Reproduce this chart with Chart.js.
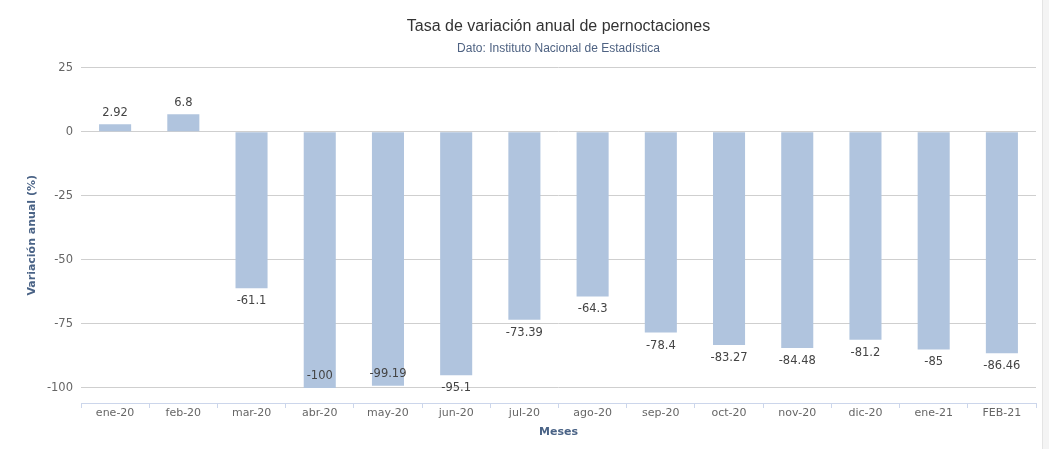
<!DOCTYPE html>
<html lang="es">
<head>
<meta charset="utf-8">
<title>Tasa de variación anual de pernoctaciones</title>
<script src="https://cdn.jsdelivr.net/npm/chart.js@4.4.1/dist/chart.umd.min.js"></script>
<style>
  html, body { margin: 0; padding: 0; background: #f4f4f4; }
  #wrap { width: 1042px; height: 449px; background: #fff; border-right: 1px solid #e4e4e4; box-sizing: content-box; }
  canvas { display: block; }
</style>
</head>
<body>
<div id="wrap"><canvas id="grafico" width="1042" height="449"></canvas></div>
<script>
// Datos (INE)
const meses = ['ene-20', 'feb-20', 'mar-20', 'abr-20', 'may-20', 'jun-20', 'jul-20',
               'ago-20', 'sep-20', 'oct-20', 'nov-20', 'dic-20', 'ene-21', 'FEB-21'];
const variacion = [2.92, 6.8, -61.1, -100, -99.19, -95.1, -73.39,
                   -64.3, -78.4, -83.27, -84.48, -81.2, -85, -86.46];
const ticksY = [25, 0, -25, -50, -75, -100];

const colorBarra = '#b0c4de';
const colorEje = '#ccd6eb';
const colorTituloEje = '#4a6386';

// Etiquetas de valor sobre / bajo cada barra
const etiquetasBarras = {
  id: 'etiquetasBarras',
  afterDatasetsDraw(chart) {
    const ctx = chart.ctx;
    const meta = chart.getDatasetMeta(0);
    const area = chart.chartArea;
    ctx.save();
    ctx.font = '11.5px "DejaVu Sans", Verdana, sans-serif';
    ctx.fillStyle = '#444';
    ctx.textAlign = 'center';
    ctx.textBaseline = 'middle';
    meta.data.forEach((barra, i) => {
      const v = variacion[i];
      let y;
      if (v >= 0) {
        y = barra.y - 11.5;
      } else {
        y = barra.y + 13;
        // si no cabe debajo, se mete dentro de la barra
        if (y + 10.5 > area.bottom) y = barra.y - 12;
      }
      ctx.fillText(String(v), barra.x, y);
    });
    ctx.restore();
  }
};

const ctx = document.getElementById('grafico').getContext('2d');
new Chart(ctx, {
  type: 'bar',
  data: {
    labels: meses,
    datasets: [{
      label: 'Variación anual (%)',
      data: variacion,
      backgroundColor: colorBarra,
      borderWidth: 0,
      barPercentage: 0.47,
      categoryPercentage: 1
    }]
  },
  options: {
    responsive: false,
    animation: false,
    layout: { padding: { left: 0, right: 6, top: 0, bottom: 0 } },
    scales: {
      x: {
        offset: true,
        afterFit(scale) { scale.height = 46; },
        grid: {
          offset: true,
          drawOnChartArea: false,
          drawTicks: true,
          tickLength: 5,
          tickColor: colorEje
        },
        border: { display: true, color: colorEje, width: 1 },
        ticks: {
          color: '#666',
          padding: -1,
          maxRotation: 0,
          font: { family: '"DejaVu Sans", Verdana, sans-serif', size: 11 }
        },
        title: {
          display: true,
          text: 'Meses',
          color: colorTituloEje,
          padding: { top: 0, bottom: 10 },
          font: { family: '"DejaVu Sans", Verdana, sans-serif', size: 11, weight: 'bold' }
        }
      },
      y: {
        min: -105.9,
        max: 25,
        afterFit(scale) { scale.width = 81; },
        afterBuildTicks(scale) {
          scale.ticks = ticksY.map(v => ({ value: v }));
        },
        grid: { color: '#cfcfcf', drawTicks: false },
        border: { display: false },
        ticks: {
          color: '#666',
          padding: 8,
          font: { family: '"DejaVu Sans", Verdana, sans-serif', size: 11.5 }
        },
        title: {
          display: true,
          text: 'Variación anual (%)',
          color: colorTituloEje,
          padding: { top: 26, bottom: 0 },
          font: { family: '"DejaVu Sans", Verdana, sans-serif', size: 11, weight: 'bold' }
        }
      }
    },
    plugins: {
      legend: { display: false },
      tooltip: { enabled: false },
      title: {
        display: true,
        text: 'Tasa de variación anual de pernoctaciones',
        color: '#333',
        fullSize: false,
        padding: { top: 17, bottom: 5 },
        font: { family: '"Liberation Sans", Arial, sans-serif', size: 16, weight: 'normal' }
      },
      subtitle: {
        display: true,
        text: 'Dato: Instituto Nacional de Estadística',
        color: '#4e6282',
        fullSize: false,
        padding: { top: 0, bottom: 12 },
        font: { family: '"Liberation Sans", Arial, sans-serif', size: 12, weight: 'normal' }
      }
    }
  },
  plugins: [etiquetasBarras]
});
</script>
</body>
</html>
